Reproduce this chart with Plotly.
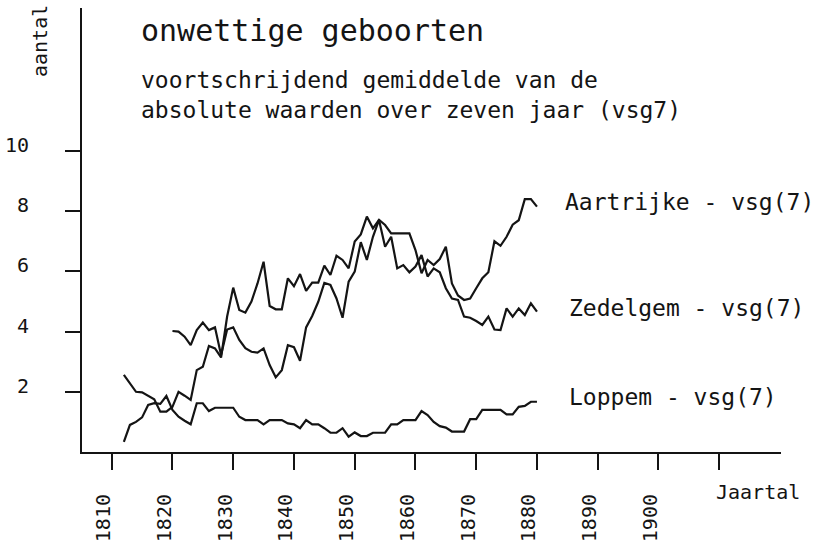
import plotly.graph_objects as go

# ---- data ----
years_aartrijke = list(range(1812, 1881))
aartrijke = [2.56, 2.28, 2.00, 1.98, 1.87, 1.75, 1.34, 1.34, 1.50, 2.00,
             1.87, 1.73, 2.72, 2.83, 3.52, 3.44, 3.14, 4.50, 5.46, 4.72,
             4.63, 5.00, 5.60, 6.32, 4.85, 4.74, 4.74, 5.77, 5.51, 5.91,
             5.35, 5.63, 5.63, 6.19, 5.88, 6.52, 6.38, 6.10, 6.99, 7.23,
             7.82, 7.43, 7.71, 7.54, 7.26, 7.26, 7.26, 7.26, 6.71, 5.94,
             6.38, 6.21, 6.41, 6.82, 5.60, 5.20, 5.05, 5.10, 5.44, 5.77,
             5.97, 7.00, 6.85, 7.15, 7.55, 7.70, 8.40, 8.40, 8.15]

years_zedelgem = list(range(1820, 1881))
zedelgem = [4.02, 4.00, 3.83, 3.55, 4.05, 4.30, 4.05, 4.14, 3.22, 4.07,
            4.14, 3.72, 3.45, 3.33, 3.30, 3.44, 2.89, 2.48, 2.72, 3.55,
            3.48, 3.03, 4.14, 4.52, 4.99, 5.62, 5.55, 5.10, 4.46, 5.66,
            5.99, 6.97, 6.38, 7.15, 7.71, 6.82, 7.15, 6.10, 6.21, 5.97,
            6.16, 6.54, 5.83, 6.10, 5.97, 5.44, 5.10, 5.05, 4.50, 4.46,
            4.35, 4.22, 4.50, 4.07, 4.05, 4.77, 4.50, 4.77, 4.55, 4.94,
            4.66]

years_loppem = list(range(1812, 1881))
loppem = [0.34, 0.90, 1.00, 1.15, 1.56, 1.62, 1.60, 1.86, 1.40, 1.17,
          1.04, 0.92, 1.62, 1.62, 1.36, 1.47, 1.47, 1.47, 1.47, 1.17,
          1.06, 1.06, 1.06, 0.92, 1.06, 1.06, 1.06, 0.95, 0.92, 0.79,
          1.06, 0.92, 0.92, 0.79, 0.64, 0.64, 0.79, 0.51, 0.65, 0.53,
          0.53, 0.64, 0.64, 0.64, 0.92, 0.92, 1.06, 1.06, 1.06, 1.36,
          1.23, 1.00, 0.86, 0.81, 0.68, 0.68, 0.68, 1.09, 1.09, 1.40,
          1.40, 1.40, 1.40, 1.25, 1.25, 1.50, 1.53, 1.67, 1.67]

x_tickvals = [1810, 1820, 1830, 1840, 1850, 1860, 1870, 1880, 1890, 1900, 1910]
x_ticktext = ["1810", "1820", "1830", "1840", "1850", "1860", "1870", "1880", "1890", "1900", ""]
y_tickvals = [2, 4, 6, 8, 10]
y_ticktext = ["2", "4", "6", "8", "10"]

series_labels = ["Aartrijke - vsg(7)", "Zedelgem - vsg(7)", "Loppem - vsg(7)"]
label_pos = [(1884.29, 8.32), (1884.95, 4.80), (1884.95, 1.84)]

title_text = "onwettige geboorten"
subtitle_lines = ["voortschrijdend gemiddelde van de",
                  "absolute waarden over zeven jaar (vsg7)"]

FONT = "DejaVu Sans Mono"
INK = "#141414"

L, R, T, B = 82, 36, 8, 93
W, H = 817, 545
pw, ph = W - L - R, H - T - B


def px_x(x):
    return (x - L) / pw


def px_y(y_from_top):
    return (H - y_from_top - B) / ph


fig = go.Figure()
for xs, ys, name in [(years_aartrijke, aartrijke, "Aartrijke"),
                     (years_zedelgem, zedelgem, "Zedelgem"),
                     (years_loppem, loppem, "Loppem")]:
    fig.add_trace(go.Scatter(x=xs, y=ys, mode="lines", name=name,
                             line=dict(color=INK, width=2.2),
                             hoverinfo="skip", showlegend=False))

annotations = []
for txt, (lx, ly) in zip(series_labels, label_pos):
    annotations.append(dict(x=lx, y=ly, xref="x", yref="y", text=txt,
                            showarrow=False, xanchor="left", yanchor="middle",
                            font=dict(family=FONT, size=23, color=INK)))

# y tick labels, placed at their axis values, well left of the ticks
for v, t in zip(y_tickvals, y_ticktext):
    annotations.append(dict(x=px_x(31), y=v, xref="paper", yref="y", text=t,
                            showarrow=False, xanchor="right", yanchor="middle",
                            yshift=6,
                            font=dict(family=FONT, size=20, color=INK)))

annotations.append(dict(x=px_x(139), y=px_y(30), xref="paper", yref="paper", text=title_text,
                        showarrow=False, xanchor="left", yanchor="middle",
                        font=dict(family=FONT, size=30, color=INK)))
for i, line in enumerate(subtitle_lines):
    annotations.append(dict(x=px_x(139), y=px_y(80 + 30 * i), xref="paper", yref="paper",
                            text=line, showarrow=False, xanchor="left", yanchor="middle",
                            font=dict(family=FONT, size=23, color=INK)))
annotations.append(dict(x=px_x(40), y=px_y(41), xref="paper", yref="paper", text="aantal",
                        textangle=-90, showarrow=False, xanchor="center", yanchor="middle",
                        font=dict(family=FONT, size=20, color=INK)))
annotations.append(dict(x=px_x(758), y=px_y(492), xref="paper", yref="paper", text="Jaartal",
                        showarrow=False, xanchor="center", yanchor="middle",
                        font=dict(family=FONT, size=20, color=INK)))

fig.update_layout(
    width=W, height=H,
    margin=dict(l=L, r=R, t=T, b=B, autoexpand=False),
    paper_bgcolor="white", plot_bgcolor="white",
    annotations=annotations,
    xaxis=dict(range=[1805.11, 1920.17], showgrid=False, zeroline=False,
               automargin=False,
               showline=True, linecolor=INK, linewidth=2,
               ticks="outside", ticklen=16, tickwidth=2, tickcolor=INK,
               tickmode="array", tickvals=x_tickvals, ticktext=x_ticktext,
               tickangle=-90, ticklabelstandoff=16, ticklabelshift=-8,
               tickfont=dict(family=FONT, size=20, color=INK)),
    yaxis=dict(range=[0, 14.75], showgrid=False, zeroline=False,
               automargin=False,
               showline=True, linecolor=INK, linewidth=2,
               ticks="outside", ticklen=15, tickwidth=2, tickcolor=INK,
               tickmode="array", tickvals=y_tickvals, showticklabels=False),
)

fig.write_html("out.html", config={"displayModeBar": False},
               post_script="document.body.style.margin='0px';")
